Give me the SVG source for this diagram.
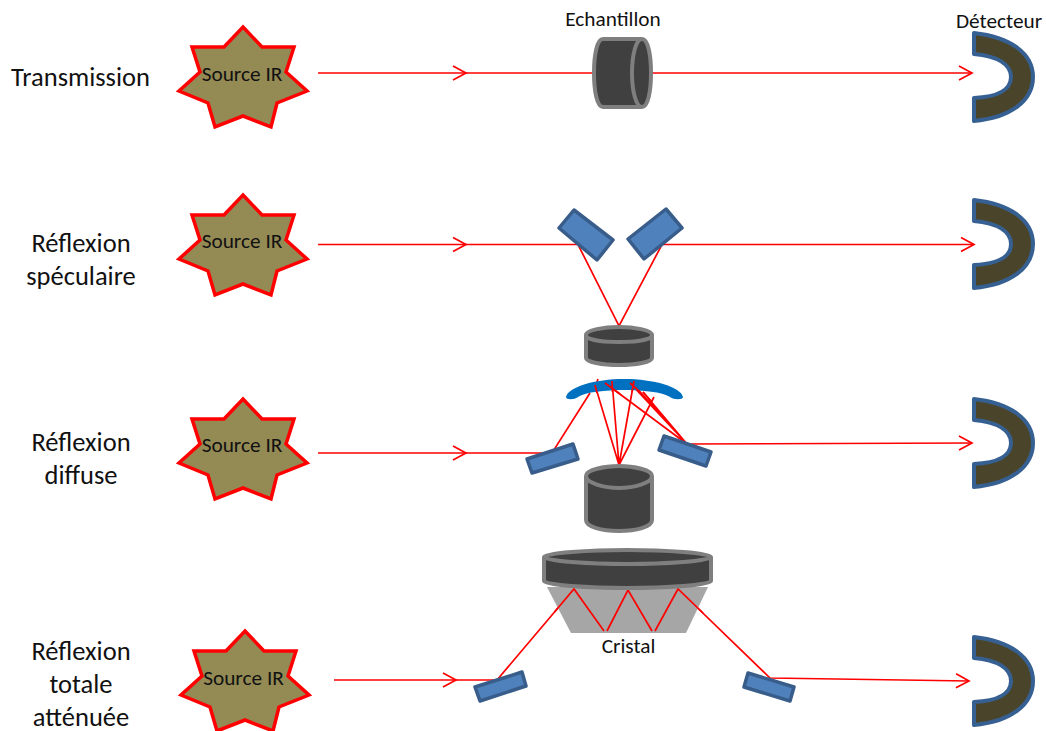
<svg xmlns="http://www.w3.org/2000/svg" width="1046" height="731" viewBox="0 0 1046 731">
<style>
text{font-family:Carlito,Lato,"Open Sans",sans-serif;fill:#111;text-anchor:middle}
.lab{font-size:26.500px}
.sm{font-size:21.300px}
.ray{fill:none;stroke:#f00;stroke-width:1.7}
.star{fill:#948a54;stroke:#f00;stroke-width:3.500;stroke-linejoin:miter}
.det{fill:#4a452a;stroke:#376092;stroke-width:4;stroke-linejoin:round}
.mir{fill:#4f81bd;stroke:#385d8a;stroke-width:3.500;stroke-linejoin:round}
.cyl{fill:#404040;stroke:#7f7f7f;stroke-width:4;stroke-linejoin:round}
</style>
<defs>
<marker id="arr" markerUnits="userSpaceOnUse" markerWidth="16" markerHeight="18" refX="14" refY="8" orient="auto" overflow="visible"><path d="M1 1L14 8L1 15" fill="none" stroke="#f00" stroke-width="1.7"/></marker>
<polygon id="starShape" class="star" points="243,27 262,47 294,47 286,72 307,91 277,103 271,127 243,116 215,127 208,103 179,91 200,72 192,47 224,47"/>
<path id="detShape" class="det" d="M974,33C1010,37 1033,53 1033,77C1033,101 1010,118 974,121L974,98C997,97 1011,90 1011,77C1011,64 997,56 974,54Z"/>
</defs>
<g id="connectors">
<path class="ray" d="M318,73H466" marker-end="url(#arr)"/><path class="ray" d="M466,73H592"/>
<path class="ray" d="M651,73H972" marker-end="url(#arr)"/>
<path class="ray" d="M318,244.500H466" marker-end="url(#arr)"/><path class="ray" d="M466,244.500H578L619,326L662,244.500H974" marker-end="url(#arr)"/>
<path class="ray" d="M318,453H466" marker-end="url(#arr)"/><path class="ray" d="M466,453H552L590,393"/>
<path class="ray" d="M595,385L619,465L612,381M598,379L596,385M619,465L634,381M619,465L654,397"/>
<path class="ray" d="M605,383L687,444L630,383M643,392L687,444M634,385L687,444"/>
<path class="ray" d="M687,444L972,443" marker-end="url(#arr)"/>
<path class="ray" d="M334,680H456" marker-end="url(#arr)"/><path class="ray" d="M456,680H497L574,589"/>
<path class="ray" d="M678,589L770,678L969,681" marker-end="url(#arr)"/>
</g>
<g id="source1"><use href="#starShape"/><text class="sm" x="242" y="81">Source IR</text></g>
<g id="source2"><use href="#starShape" y="168"/><text class="sm" x="242" y="248">Source IR</text></g>
<g id="source3"><use href="#starShape" y="372"/><text class="sm" x="242" y="452">Source IR</text></g>
<g id="source4"><use href="#starShape" x="2" y="604"/><text class="sm" x="243.500" y="685">Source IR</text></g>
<g id="detector1"><use href="#detShape"/><text class="sm" x="999" y="28">Détecteur</text></g>
<g id="detector2"><use href="#detShape" y="167"/></g>
<g id="detector3"><use href="#detShape" y="366"/></g>
<g id="detector4"><use href="#detShape" y="604"/></g>
<g id="labels">
<text class="lab" x="80.500" y="86">Transmission</text>
<text class="lab" x="81" y="252">Réflexion</text><text class="lab" x="81" y="285">spéculaire</text>
<text class="lab" x="81" y="451">Réflexion</text><text class="lab" x="81" y="484">diffuse</text>
<text class="lab" x="81" y="660">Réflexion</text><text class="lab" x="81" y="693">totale</text><text class="lab" x="81" y="726">atténuée</text>
</g>
<g id="sample1">
<path class="cyl" d="M603,39H642C648,39 651,55 651,73C651,91 648,107 642,107H603C597,107 594,91 594,73C594,55 597,39 603,39Z"/>
<path d="M642,39C636,39 632,55 632,73C632,91 636,107 642,107" fill="none" stroke="#7f7f7f" stroke-width="4"/>
<text class="sm" x="613" y="26">Echantillon</text>
</g>
<g id="mirrors2">
<polygon class="mir" points="574,210 613,240 597,260 559,228"/>
<polygon class="mir" points="666,209 682,228 644,259 628,239"/>
</g>
<g id="sample2">
<path class="cyl" d="M586,335C586,330 604,327 619,327C634,327 652,330 652,335V358C652,362 636,365 619,365C602,365 586,362 586,358Z"/>
<path d="M586,335C586,340 604,342 619,342C634,342 652,340 652,335" fill="none" stroke="#7f7f7f" stroke-width="4"/>
</g>
<g id="dome"><path d="M566,397C568,387 595,379 624,379C654,379 681,387 683,397C683,400 674,400 670,397C662,392 643,390 624,390C605,390 586,392 578,397C574,400 566,400 566,397Z" fill="#0070c0"/>
<path class="ray" d="M595,385L597,393M612,381L612.500,392M634,381L632,392M605,383L620,394M630,383L640,392M643,392L652,402"/></g>
<g id="mirrors3">
<polygon class="mir" points="573,444 578,459 532,473 527,459"/>
<polygon class="mir" points="664,436 711,452 706,466 659,450"/>
</g>
<g id="sample3">
<path class="cyl" d="M586,476C586,470 604,466 619,466C634,466 652,470 652,476V520C652,527 636,531 619,531C602,531 586,527 586,520Z"/>
<path d="M586,476C586,483 604,488 619,488C634,488 652,483 652,476" fill="none" stroke="#7f7f7f" stroke-width="4"/>
</g>
<g id="crystal">
<polygon points="547,587 708,587 686,633 571,633" fill="#a6a6a6"/>
<path class="ray" d="M554.500,612L574,589L604,631M607,631L628,590L652,631M655,631L678,589L703,613"/>
<text class="sm" x="628.500" y="653">Cristal</text>
</g>
<g id="sample4">
<path class="cyl" d="M544,557C544,553 590,550 627,550C665,550 711,553 711,557V581C711,585 665,588 627,588C590,588 544,585 544,581Z"/>
<path d="M544,557C544,561 590,564 627,564C665,564 711,561 711,557" fill="none" stroke="#7f7f7f" stroke-width="4"/>
</g>
<g id="mirrors4">
<polygon class="mir" points="522,672 526,686 480,701 475,687"/>
<polygon class="mir" points="748,673 794,687 790,701 744,687"/>
</g>
</svg>
